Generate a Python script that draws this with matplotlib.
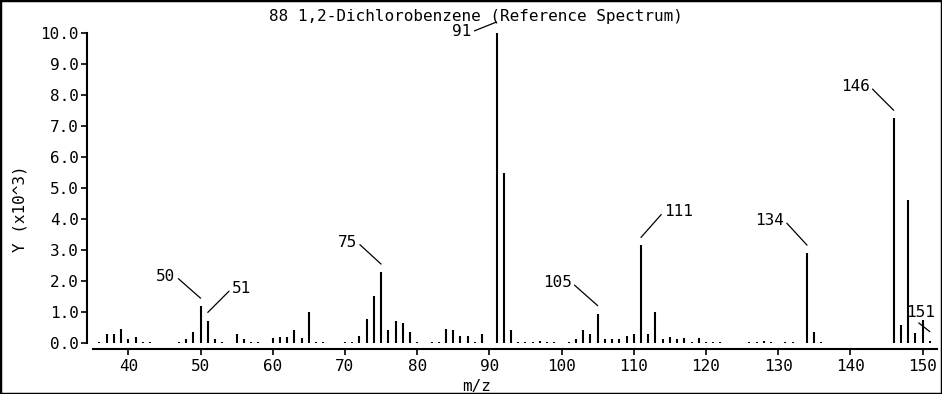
import matplotlib
matplotlib.use("Agg")
import matplotlib.pyplot as plt
import matplotlib.transforms as mtransforms
from matplotlib.patches import Rectangle

# Espectro de masas (intensidad en unidades de 10^3)
mz = [36, 37, 38, 39, 40, 41, 42, 43, 47, 48, 49, 50, 51, 52, 53, 55, 56, 57, 58,
      60, 61, 62, 63, 64, 65, 66, 67, 70, 71, 72, 73, 74, 75, 76, 77, 78, 79, 80,
      82, 83, 84, 85, 86, 87, 88, 89, 91, 92, 93, 94, 95, 96, 97, 98, 99, 101,
      102, 103, 104, 105, 106, 107, 108, 109, 110, 111, 112, 113, 114, 115, 116,
      117, 118, 119, 120, 121, 122, 126, 127, 128, 129, 131, 132, 134, 135, 136,
      146, 147, 148, 149, 150, 151]
intensity = [0.05, 0.28, 0.28, 0.46, 0.12, 0.19, 0.05, 0.05, 0.05, 0.12, 0.35, 1.19,
             0.70, 0.14, 0.05, 0.30, 0.14, 0.05, 0.05, 0.16, 0.19, 0.21, 0.41, 0.16,
             1.01, 0.05, 0.05, 0.05, 0.05, 0.23, 0.77, 1.51, 2.29, 0.41, 0.71, 0.66,
             0.35, 0.05, 0.05, 0.05, 0.46, 0.41, 0.23, 0.23, 0.05, 0.28, 10.0, 5.50,
             0.41, 0.05, 0.05, 0.05, 0.07, 0.05, 0.05, 0.05, 0.14, 0.41, 0.28, 0.95,
             0.14, 0.12, 0.12, 0.23, 0.30, 3.15, 0.30, 1.01, 0.12, 0.19, 0.12, 0.16,
             0.05, 0.16, 0.05, 0.05, 0.05, 0.05, 0.05, 0.08, 0.05, 0.05, 0.05, 2.90,
             0.35, 0.05, 7.25, 0.57, 4.63, 0.32, 0.74, 0.08]

labeled_peaks = [50, 51, 75, 91, 105, 111, 134, 146, 151]

title = "88 1,2-Dichlorobenzene (Reference Spectrum)"
x_ticks = [40, 50, 60, 70, 80, 90, 100, 110, 120, 130, 140, 150]
y_ticks = [0, 1, 2, 3, 4, 5, 6, 7, 8, 9, 10]

# posicion de cada etiqueta (pixeles): hueco sobre el pico, desplazamiento de la linea, alineacion
label_style = {
    50: (8, -25, 22, 'right'),
    51: (9, 24, 24, 'left'),
    75: (8, -24, 22, 'right'),
    91: (11, -25, -10, 'right'),
    105: (8, -26, 23, 'right'),
    111: (8, 23, 26, 'left'),
    134: (8, -23, 25, 'right'),
    146: (8, -24, 24, 'right'),
    151: (9, -24, 19, 'left'),
}

plt.rcParams['font.family'] = ['DejaVu Sans Mono']
plt.rcParams['font.size'] = 11.5

fig = plt.figure(figsize=(9.42, 3.94), dpi=100)
ax = fig.add_axes([93 / 942, 45 / 394, 844 / 942, 316 / 394])

ax.vlines(mz, 0, intensity, colors='black', linewidth=1.5)

ax.set_xlim(35.1, 152.0)
ax.set_ylim(-0.19, 10.0)
ax.set_xticks(x_ticks)
ax.set_yticks(y_ticks)
ax.set_yticklabels([f"{v:.1f}" for v in y_ticks])

ax.spines['top'].set_visible(False)
ax.spines['right'].set_visible(False)
ax.spines['left'].set_position(('outward', 4.3))
ax.spines['left'].set_bounds(0, 10)
ax.spines['left'].set_linewidth(1.5)
ax.spines['bottom'].set_linewidth(1.5)
ax.tick_params(axis='both', direction='out', length=4, width=1.2, colors='black')
ax.tick_params(axis='x', pad=3)
ax.tick_params(axis='y', pad=2)

ax.set_xlabel("m/z")
ax.set_ylabel("Y (x10^3)")
ax.xaxis.set_label_coords(0.455, -0.095)
ax.yaxis.set_label_coords(-0.078, 0.443)

# etiquetas de los picos con linea guia
heights = dict(zip(mz, intensity))
for peak in labeled_peaks:
    gap, dx, dy, ha = label_style[peak]
    end_tr = mtransforms.offset_copy(ax.transData, fig=fig, x=0, y=gap, units='dots')
    ax.annotate(str(peak), xy=(peak, heights[peak]), xycoords=end_tr,
                xytext=(dx, dy), textcoords='offset pixels',
                ha=ha, va='center', annotation_clip=False,
                arrowprops=dict(arrowstyle='-', color='black', lw=0.9,
                                shrinkA=0, shrinkB=0,
                                relpos=(1, 0.5) if ha == 'right' else (0, 0.5)))

fig.text(476 / 942, 1 - 17 / 394, title, ha='center', va='center')

# marco exterior
fig.patches.append(Rectangle((0, 0), 1, 1, transform=fig.transFigure, fill=False,
                             edgecolor='black', linewidth=2.5))

fig.savefig("out.png", dpi=100)
